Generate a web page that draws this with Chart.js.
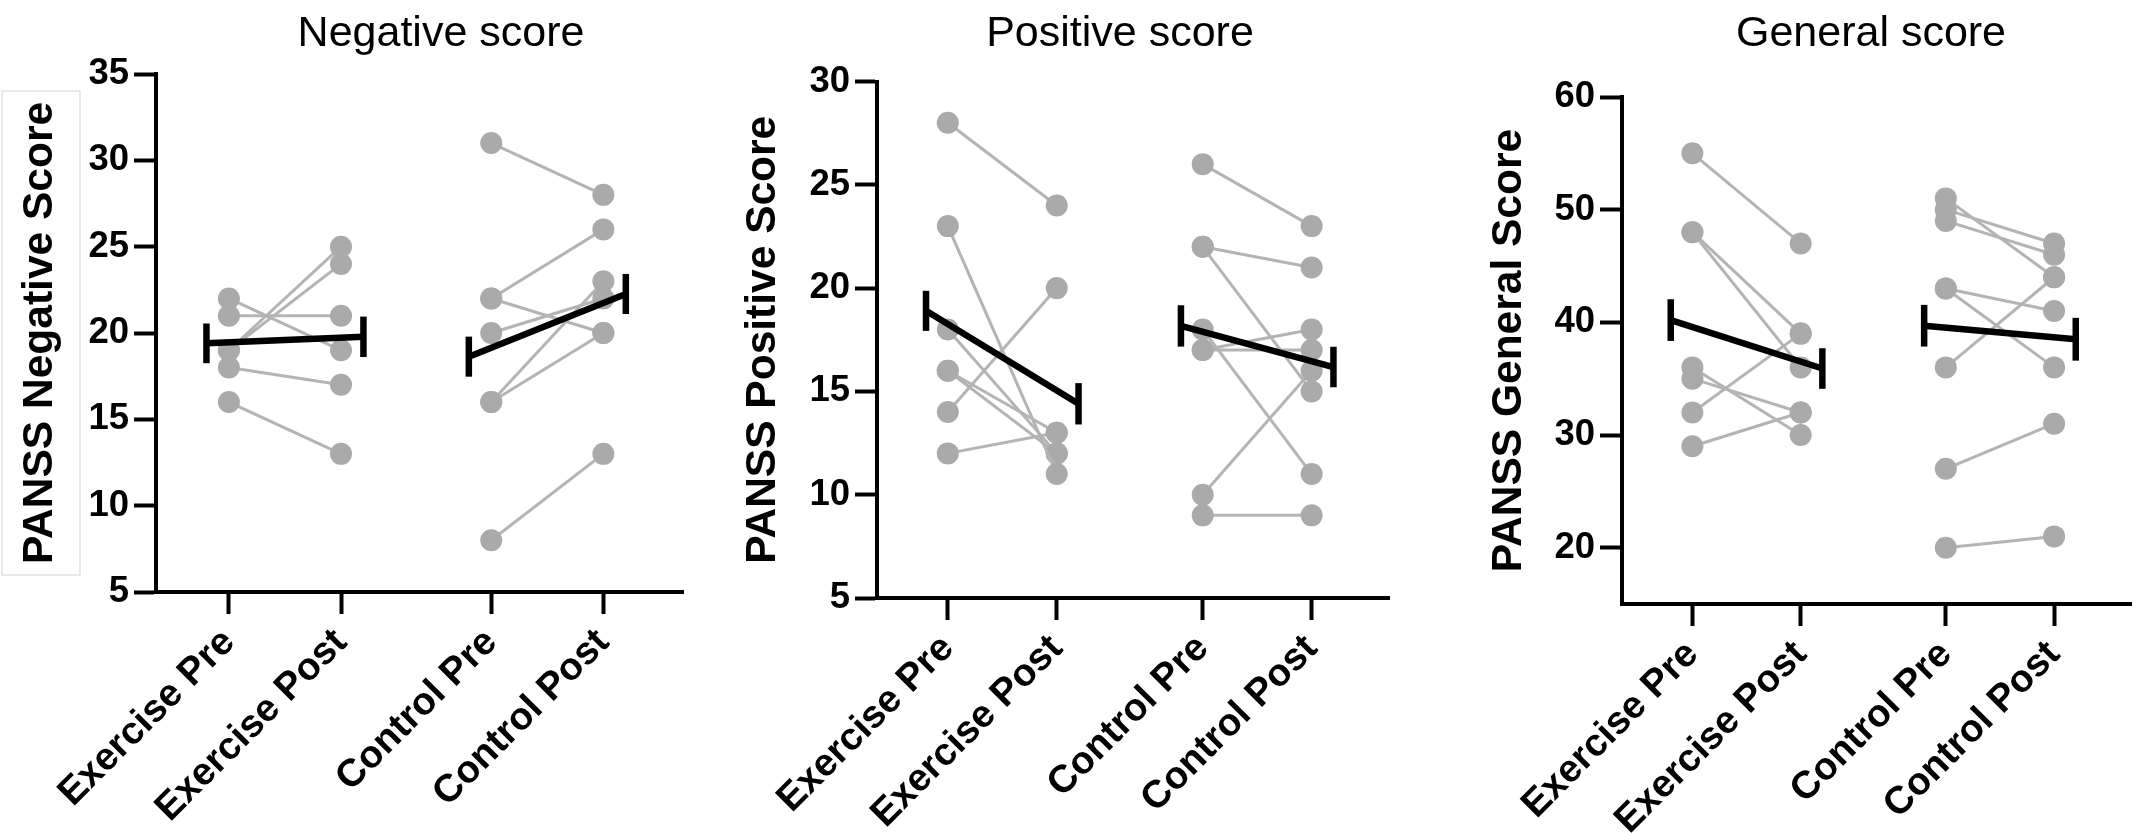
<!DOCTYPE html>
<html><head><meta charset="utf-8">
<script src="https://cdn.jsdelivr.net/npm/chart.js@4.4.1/dist/chart.umd.min.js"></script>
<style>
html,body{margin:0;padding:0;background:#fff;}
#wrap{position:relative;width:2145px;height:833px;overflow:hidden;background:#fff;}
canvas{position:absolute;top:0;}
</style></head><body>
<div id="wrap">
<canvas id="c1" width="700" height="833" style="left:0px;width:700px;height:833px"></canvas>
<canvas id="c2" width="690" height="833" style="left:720px;width:690px;height:833px"></canvas>
<canvas id="c3" width="705" height="833" style="left:1440px;width:705px;height:833px"></canvas>
</div>
<script>
// ---------- data ----------
const categories = ['Exercise Pre', 'Exercise Post', 'Control Pre', 'Control Post'];
const categoryX = [0, 1, 2.34, 3.34];

const negExercisePre  = [22, 21, 19, 19, 18, 16];
const negExercisePost = [19, 21, 25, 24, 17, 13];
const negControlPre   = [31, 22, 22, 20, 16, 16, 8];
const negControlPost  = [28, 26, 20, 22, 23, 20, 13];
const negMeans  = [19.4, 19.78, 18.63, 22.26];
const negErrors = [1.15, 1.17, 1.16, 1.16];
const negTicks  = [5, 10, 15, 20, 25, 30, 35];

const posExercisePre  = [28, 23, 18, 16, 16, 14, 12];
const posExercisePost = [24, 11, 12, 13, 12, 20, 13];
const posControlPre   = [26, 22, 22, 18, 17, 17, 10, 9];
const posControlPost  = [23, 21, 15, 11, 18, 17, 16, 9];
const posMeans  = [18.9, 14.4, 18.17, 16.18];
const posErrors = [0.97, 1.0, 1.0, 0.98];
const posTicks  = [5, 10, 15, 20, 25, 30];

const genExercisePre  = [55, 48, 48, 36, 35, 32, 29];
const genExercisePost = [47, 39, 36, 30, 32, 39, 32];
const genControlPre   = [51, 50, 49, 43, 43, 36, 27, 20];
const genControlPost  = [44, 47, 46, 41, 36, 44, 31, 21];
const genMeans  = [40.2, 35.9, 39.7, 38.5];
const genErrors = [1.85, 1.8, 1.85, 1.9];
const genTicks  = [20, 30, 40, 50, 60];

// ---------- styling ----------
const FAMILY = "'Liberation Sans', Arial, Helvetica, sans-serif";
const GREY_PT = '#aaaaaa';
const GREY_LN = '#b4b4b4';
const MEAN_OFFSET = 0.2;

const panelTitle = {
  id: 'panelTitle',
  beforeDraw(chart, args, opts) {
    if (opts.box) {
      const ctx = chart.ctx;
      ctx.save();
      ctx.strokeStyle = '#e2e2e2';
      ctx.lineWidth = 1.5;
      ctx.strokeRect(opts.box[0], opts.box[1], opts.box[2], opts.box[3]);
      ctx.restore();
    }
  },
  afterDraw(chart, args, opts) {
    const ctx = chart.ctx;
    ctx.save();
    ctx.font = opts.size + 'px ' + FAMILY;
    ctx.fillStyle = '#000';
    ctx.textAlign = 'center';
    ctx.textBaseline = 'alphabetic';
    ctx.fillText(opts.text, opts.x, opts.y);
    ctx.restore();
  }
};

function pairSets(pre, post, x0, x1) {
  return pre.map((v, i) => ({
    data: [{x: x0, y: v}, {x: x1, y: post[i]}],
    borderColor: GREY_LN, borderWidth: 3,
    pointRadius: 11, pointHoverRadius: 11, pointBorderWidth: 0,
    pointBackgroundColor: GREY_PT, pointBorderColor: GREY_PT,
    order: 1, clip: false
  }));
}

function blackLine(points) {
  return {
    data: points, borderColor: '#000', borderWidth: 6.5, pointRadius: 0,
    borderCapStyle: 'butt', order: 0, clip: false
  };
}

function makePanel(id, cfg) {
  const datasets = [];
  const xs = [categoryX[0] - MEAN_OFFSET, categoryX[1] + MEAN_OFFSET,
              categoryX[2] - MEAN_OFFSET, categoryX[3] + MEAN_OFFSET];
  datasets.push(blackLine([{x: xs[0], y: cfg.means[0]}, {x: xs[1], y: cfg.means[1]}]));
  datasets.push(blackLine([{x: xs[2], y: cfg.means[2]}, {x: xs[3], y: cfg.means[3]}]));
  for (let k = 0; k < 4; k++) {
    datasets.push(blackLine([{x: xs[k], y: cfg.means[k] - cfg.errors[k]},
                             {x: xs[k], y: cfg.means[k] + cfg.errors[k]}]));
  }
  datasets.push(...pairSets(cfg.exPre, cfg.exPost, categoryX[0], categoryX[1]));
  datasets.push(...pairSets(cfg.ctPre, cfg.ctPost, categoryX[2], categoryX[3]));

  new Chart(document.getElementById(id), {
    type: 'line',
    data: { datasets },
    options: {
      responsive: false, animation: false, devicePixelRatio: 1,
      events: [],
      layout: { autoPadding: false, padding: { top: cfg.top, right: cfg.right, bottom: 0, left: 0 } },
      plugins: {
        legend: { display: false }, tooltip: { enabled: false }, title: { display: false },
        panelTitle: { text: cfg.title, x: cfg.titleX, y: 46, size: 43, box: cfg.box }
      },
      scales: {
        x: {
          type: 'linear', min: -0.65, max: 4.05,
          afterBuildTicks: s => { s.ticks = categoryX.map(v => ({ value: v })); },
          afterFit: s => { s.height = cfg.xHeight; },
          border: { display: true, color: '#000', width: 4 },
          grid: { display: true, drawOnChartArea: false, drawTicks: true, tickLength: 22, tickWidth: 4, tickColor: '#000' },
          ticks: {
            autoSkip: false, maxRotation: 45, minRotation: 45, padding: 6, color: '#000',
            font: { family: FAMILY, size: 38.5, weight: 'bold' },
            callback: (v, i) => categories[i]
          }
        },
        y: {
          type: 'linear', min: cfg.min, max: cfg.max,
          afterBuildTicks: s => { s.ticks = cfg.ticks.map(v => ({ value: v })); },
          afterFit: s => { s.width = cfg.yWidth; },
          border: { display: true, color: '#000', width: 4 },
          grid: { display: true, drawOnChartArea: false, drawTicks: true, tickLength: 22, tickWidth: 4, tickColor: '#000' },
          ticks: { padding: 5, color: '#000', font: { family: FAMILY, size: 36.5, weight: 'bold' } },
          title: {
            display: true, text: cfg.yTitle, color: '#000',
            font: { family: FAMILY, size: 42.5, weight: 'bold' },
            padding: { top: cfg.yTitlePad, bottom: 0 }
          }
        }
      }
    },
    plugins: [panelTitle]
  });
}

makePanel('c1', {
  title: 'Negative score', titleX: 441, yTitle: 'PANSS Negative Score',
  exPre: negExercisePre, exPost: negExercisePost, ctPre: negControlPre, ctPost: negControlPost,
  means: negMeans, errors: negErrors, ticks: negTicks, min: 5, max: 35,
  top: 74, right: 17, yWidth: 156, xHeight: 833 - 592, yTitlePad: 15,
  box: [2, 91, 78, 484]
});
makePanel('c2', {
  title: 'Positive score', titleX: 1120 - 720, yTitle: 'PANSS Positive Score',
  exPre: posExercisePre, exPost: posExercisePost, ctPre: posControlPre, ctPost: posControlPost,
  means: posMeans, errors: posErrors, ticks: posTicks, min: 5, max: 30,
  top: 81.5, right: 21, yWidth: 157, xHeight: 833 - 598, yTitlePad: 18
});
makePanel('c3', {
  title: 'General score', titleX: 1871 - 1440, yTitle: 'PANSS General Score',
  exPre: genExercisePre, exPost: genExercisePost, ctPre: genControlPre, ctPost: genControlPost,
  means: genMeans, errors: genErrors, ticks: genTicks, min: 15, max: 60,
  top: 97, right: 14, yWidth: 182, xHeight: 833 - 604, yTitlePad: 44
});
</script>
</body></html>
